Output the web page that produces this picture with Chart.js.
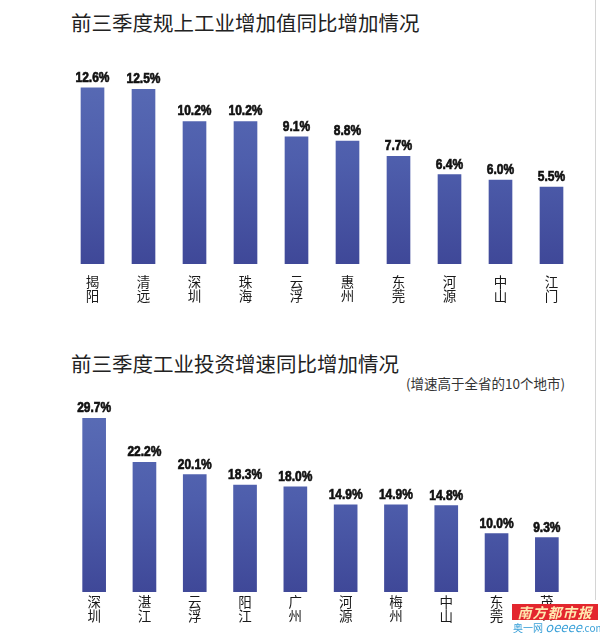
<!DOCTYPE html>
<html>
<head>
<meta charset="utf-8">
<script src="https://cdn.jsdelivr.net/npm/chart.js@4.4.1/dist/chart.umd.min.js"></script>
<style>
  body { margin: 0; background: #fff; }
  #page { position: relative; width: 600px; height: 639px; overflow: hidden; background: #fff; }
  .title { position: absolute; left: 71px; font: 20.5px 'Noto Sans CJK SC', sans-serif; color: #222; white-space: nowrap; line-height: 1; }
  .sub { position: absolute; left: 406px; top: 377px; font: 13.5px 'Noto Sans CJK SC', sans-serif; color: #333; white-space: nowrap; line-height: 1; }
  canvas { position: absolute; left: 0; }
  .edge { position: absolute; left: 595px; top: 0; width: 1px; height: 600px; background: #d4d4d4; }
  .mark { position: absolute; left: 512px; top: 604px; width: 86px; height: 16px; background: #e3262e; color: #ffe9b0;
          font: bold italic 14px 'Noto Sans CJK SC', sans-serif; line-height: 16px; text-align: center; letter-spacing: 1px; }
  .mark2 { position: absolute; left: 513px; top: 621px; font: 10px 'Noto Sans CJK SC', sans-serif; color: #3aa0d8; white-space: nowrap; line-height: 12px; background: #fff; }
  .mark2 i { font-size: 13px; }
</style>
</head>
<body>
<div id="page">
  <div class="title" style="top:12px">前三季度规上工业增加值同比增加情况</div>
  <canvas id="c1" width="600" height="280" style="top:40px"></canvas>
  <div class="title" style="top:353px">前三季度工业投资增速同比增加情况</div>
  <div class="sub">(增速高于全省的10个地市)</div>
  <canvas id="c2" width="600" height="249" style="top:390px"></canvas>
  <div class="edge"></div>
  <div class="mark">南方都市报</div>
  <div class="mark2">奥一网 <i>oeeee</i>.com</div>
</div>
<script>
// 前三季度规上工业增加值同比增加情况
const cities1 = ['揭阳', '清远', '深圳', '珠海', '云浮', '惠州', '东莞', '河源', '中山', '江门'];
const growth1 = [12.6, 12.5, 10.2, 10.2, 9.1, 8.8, 7.7, 6.4, 6.0, 5.5];

// 前三季度工业投资增速同比增加情况
const cities2 = ['深圳', '湛江', '云浮', '阳江', '广州', '河源', '梅州', '中山', '东莞', '茂名'];
const growth2 = [29.7, 22.2, 20.1, 18.3, 18.0, 14.9, 14.9, 14.8, 10.0, 9.3];

const valueFont = "bold 15px 'Liberation Sans', Arial, sans-serif";

// bar gradient, lighter at the top
function barFill(context) {
  const area = context.chart.chartArea;
  if (!area) return '#4b5aa8';
  const g = context.chart.ctx.createLinearGradient(0, area.top, 0, area.bottom);
  g.addColorStop(0, '#5a6db6');
  g.addColorStop(0.5, '#4e5eac');
  g.addColorStop(1, '#3f4898');
  return g;
}

// percentage above each bar, squeezed + stroked to look like a heavy condensed face
const valueLabels = {
  id: 'valueLabels',
  afterDatasetsDraw(chart) {
    const ctx = chart.ctx;
    const ds = chart.data.datasets[0];
    chart.getDatasetMeta(0).data.forEach((bar, i) => {
      const txt = ds.data[i].toFixed(1) + '%';
      ctx.save();
      ctx.translate(bar.x, bar.y - 6);
      ctx.scale(0.8, 1);
      ctx.font = valueFont;
      ctx.fillStyle = '#111';
      ctx.strokeStyle = '#111';
      ctx.lineWidth = 0.7;
      ctx.textAlign = 'center';
      ctx.textBaseline = 'alphabetic';
      ctx.fillText(txt, 0, 0);
      ctx.strokeText(txt, 0, 0);
      ctx.restore();
    });
  },
};

function makeChart(id, cities, values, opts) {
  return new Chart(document.getElementById(id), {
    type: 'bar',
    data: {
      labels: cities.map(c => c.split('')),
      datasets: [{
        data: values,
        backgroundColor: barFill,
        borderWidth: 0,
        barThickness: 23,
      }],
    },
    options: {
      responsive: false,
      animation: false,
      layout: { padding: { left: opts.left, right: opts.right, top: opts.top, bottom: 0 } },
      plugins: { legend: { display: false }, tooltip: { enabled: false }, title: { display: false } },
      scales: {
        x: {
          grid: { display: false },
          border: { display: false },
          afterFit(scale) { scale.height = opts.axisH; },
          ticks: {
            autoSkip: false,
            maxRotation: 0,
            padding: opts.tickPad,
            color: '#1a1a1a',
            font: { size: 13.5, family: "'Noto Sans CJK SC', sans-serif", lineHeight: 1.1 },
          },
        },
        y: { display: false, min: 0, max: opts.max },
      },
    },
    plugins: [valueLabels],
  });
}

makeChart('c1', cities1, growth1, { left: 67, right: 23, top: 20, axisH: 56, tickPad: 2, max: 14.6 });
makeChart('c2', cities2, growth2, { left: 69, right: 28, top: 15, axisH: 47, tickPad: -6, max: 32 });
</script>
</body>
</html>
